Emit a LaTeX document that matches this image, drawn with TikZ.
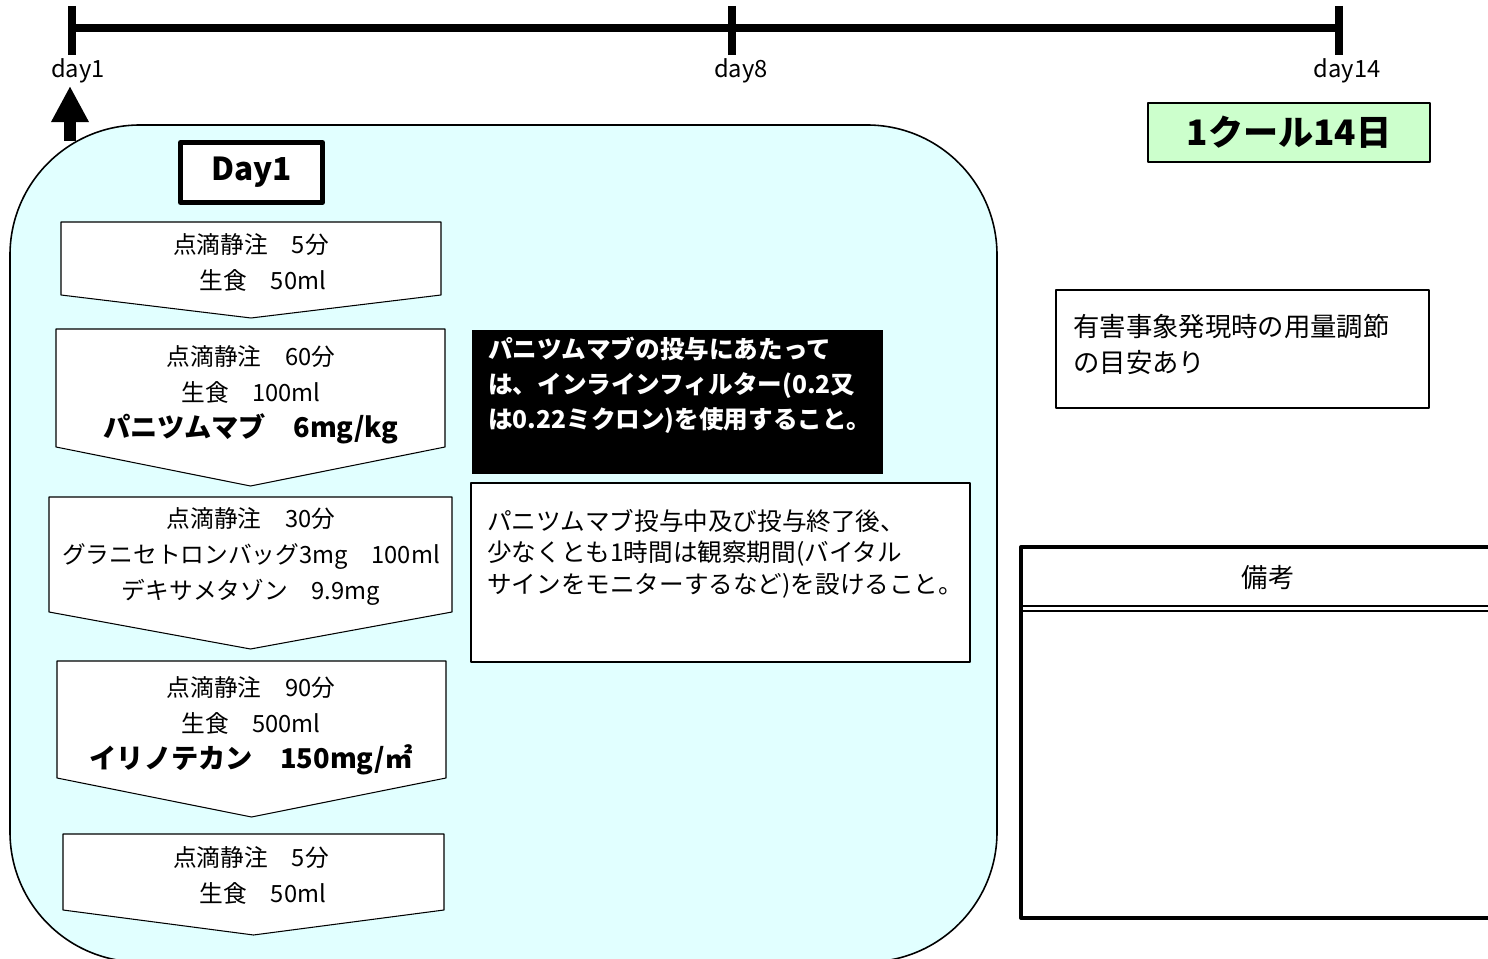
\documentclass[tikz,border=0pt]{standalone}
\usepackage{fontspec}
\setmainfont{Noto Sans CJK JP}
\usetikzlibrary{arrows.meta,calc,positioning}

\definecolor{paleCyan}{RGB}{225,255,255}
\definecolor{paleGreen}{RGB}{204,255,204}
\newcommand\drugfont{\bfseries\fontsize{15.5}{20.5}\selectfont}

\tikzset{
  chev/.style={draw,fill=white,line width=0.6pt},
  chevtxt/.style={align=center,inner sep=0pt,font=\fontsize{13.5}{20.5}\selectfont},
  notetxt/.style={align=left,inner sep=0pt,anchor=west,font=\fontsize{14}{18}\selectfont},
  daylbl/.style={inner sep=0pt,font=\fontsize{13.5}{15}\selectfont},
}

\begin{document}
\begin{tikzpicture}[x=0.02cm,y=-0.02cm,line join=round]
\useasboundingbox (0,0) rectangle (1488,959);
\clip (0,0) rectangle (1488,959);
% time line
\coordinate (D1) at (72,28);
\coordinate (D8) at (732,28);
\coordinate (D14) at (1339,28);
\draw[line width=4.5pt] (D1) -- (D14);
\foreach \d in {D1,D8,D14}{\draw[line width=4.5pt] ($(\d)+(0,-22)$) -- ($(\d)+(0,27)$);}
\node[daylbl] (L1) at (78,71) {day1};
\node[daylbl] (L8) at (741,71) {day8};
\node[daylbl] (L14) at (1347,71) {day14};
\coordinate (arrBot) at (70,141);
\coordinate (arrTop) at (70,86);
\draw[line width=6.8pt,-{Triangle[width=20pt,length=20.5pt]}] (arrBot) -- (arrTop);
% day1 panel
\draw[fill=paleCyan,line width=0.9pt,rounded corners=2.6cm] (10,125) rectangle (997,962);
\node[draw,line width=2.8pt,fill=white,minimum width=2.84cm,minimum height=1.2cm,font=\bfseries\fontsize{18}{20}\selectfont] (day) at (251.5,172.5) {Day1};
\foreach \t/\l/\r/\s/\p in {222/61/441/295/318,329/56/445/447/486,497/49/452/612/649,661/57/446/778/817,834/63/444/910/935}
  {\draw[chev] (\l,\t) -- (\r,\t) -- (\r,\s) -- ({(\l+\r)/2},\p) -- (\l,\s) -- cycle;}
\node[chevtxt] (c1) at (251,262) {点滴静注　5分\\　生食　50ml};
\node[chevtxt] (c2) at (251,395) {点滴静注　60分\\生食　100ml\\{\drugfont パニツムマブ　6mg/kg}};
\node[chevtxt] (c3) at (251,556) {点滴静注　30分\\グラニセトロンバッグ3mg　100ml\\デキサメタゾン　9.9mg};
\node[chevtxt] (c4) at (251,726) {点滴静注　90分\\生食　500ml\\{\drugfont イリノテカン　150mg/㎡}};
\node[chevtxt] (c5) at (251,875) {点滴静注　5分\\　生食　50ml};
% notes
\fill (472,330) rectangle (883,474);
\node[notetxt,text=white,font=\bfseries\fontsize{14}{20}\selectfont] (filt) at (488,385) {パニツムマブの投与にあたって\\は、インラインフィルター(0.2又\\は0.22ミクロン)を使用すること。};
\draw[fill=white,line width=0.9pt] (471,483) rectangle (970,662);
\node[notetxt] (obs) at (487,553.5) {パニツムマブ投与中及び投与終了後、\\少なくとも1時間は観察期間(バイタル\\サインをモニターするなど)を設けること。};
% right side
\node[draw,fill=paleGreen,line width=1.1pt,minimum width=5.64cm,minimum height=1.18cm,font=\bfseries\fontsize{20}{22}\selectfont] (cycle) at (1289,132.5) {1クール14日};
\draw[line width=0.9pt] (1056,290) rectangle (1429,408);
\node[notetxt,font=\fontsize{15}{20}\selectfont] (adv) at (1073,344.5) {有害事象発現時の用量調節\\の目安あり};
\draw[line width=1.9pt] (1021,547) rectangle (1500,918);
\draw[line width=1.3pt] (1021,606) -- (1500,606) (1021,611) -- (1500,611);
\node[inner sep=0pt,font=\fontsize{15}{18}\selectfont] (memo) at (1268,578) {備考};
\end{tikzpicture}
\end{document}
